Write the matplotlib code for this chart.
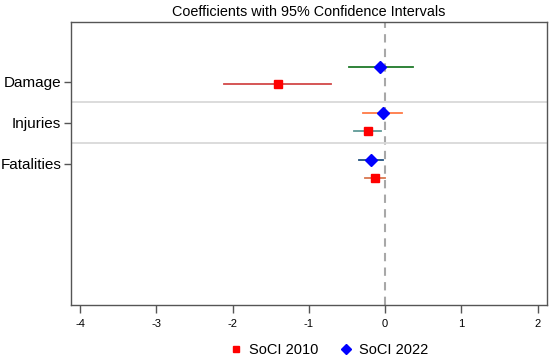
import matplotlib
matplotlib.use("Agg")
import matplotlib.pyplot as plt
from matplotlib.lines import Line2D

plt.rcParams['font.family'] = ['Liberation Sans', 'DejaVu Sans']

categories = ["Damage", "Injuries", "Fatalities"]
# SoCI 2010
est_2010 = [-1.41, -0.23, -0.13]
lo_2010 = [-2.11, -0.41, -0.26]
hi_2010 = [-0.71, -0.055, 0.0]
# SoCI 2022
est_2022 = [-0.07, -0.03, -0.19]
lo_2022 = [-0.48, -0.29, -0.34]
hi_2022 = [0.36, 0.22, -0.025]
xticks = [-4, -3, -2, -1, 0, 1, 2]

# layout (vertical offsets of each series within each category row)
off_2010 = [0.056, 0.195, 0.334]
off_2022 = [-0.373, -0.237, -0.098]
ci_col_2010 = ["#d24848", "#5f9a96", "#d9774f"]
ci_col_2022 = ["#1f7a2a", "#ff7a45", "#1f4f7f"]

fig = plt.figure(figsize=(5.5, 3.61), dpi=100)
ax = fig.add_axes([71/550, 1-305.3/361, (547-71)/550, (305.3-22)/361])

ypos = list(range(len(categories)))
ax.axvline(0, color="#a8a8a8", lw=1.5, ls=(0, (4, 3)), zorder=1)
for s in [0.495, 1.48]:
    ax.axhline(s, color="#d9d9d9", lw=1.3, zorder=1)

for i, y in enumerate(ypos):
    y10 = y + off_2010[i]
    y22 = y + off_2022[i]
    ax.plot([lo_2010[i], hi_2010[i]], [y10, y10], color=ci_col_2010[i], lw=1.3, zorder=2)
    ax.plot([lo_2022[i], hi_2022[i]], [y22, y22], color=ci_col_2022[i], lw=1.3, zorder=2)
    ax.plot(est_2010[i], y10, marker="s", ms=6, color="#ff0000", ls="none", zorder=3)
    ax.plot(est_2022[i], y22, marker="D", ms=6, color="#0000ff", ls="none", zorder=3)

ax.set_xlim(-4.118, 2.122)
ax.set_ylim(5.446, -1.463)
ax.set_yticks(ypos)
ax.set_yticklabels(categories, fontsize=11)
ax.set_xticks(xticks)
ax.set_xticklabels([str(t) for t in xticks], fontsize=8)
ax.tick_params(axis="y", length=5, width=1, color="#555555", pad=2)
ax.tick_params(axis="x", length=6, width=1, color="#555555", pad=4)
for sp in ax.spines.values():
    sp.set_color("#555555")
    sp.set_linewidth(1)

ax.set_title("Coefficients with 95% Confidence Intervals", fontsize=10.4, pad=4)

handles = [Line2D([], [], marker="s", color="#ff0000", ls="none", ms=4.5, label="SoCI 2010"),
           Line2D([], [], marker="D", color="#0000ff", ls="none", ms=5, label="SoCI 2022")]
fig.legend(handles=handles, loc="center", bbox_to_anchor=(0.597, 1-350.5/361), ncol=2,
           frameon=False, fontsize=10.5, handletextpad=0.4, columnspacing=1.4, handlelength=1.0)

fig.savefig("out.png", dpi=100)
